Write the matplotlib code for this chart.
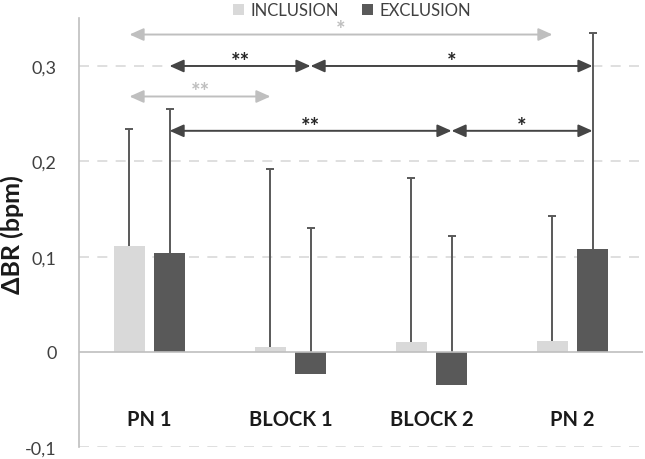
import matplotlib
matplotlib.use("Agg")
import matplotlib.pyplot as plt
import numpy as np

plt.rcParams['font.family'] = ['Lato', 'DejaVu Sans']

# donnees
categories = ["PN 1", "BLOCK 1", "BLOCK 2", "PN 2"]
inclusion = [0.111, 0.005, 0.010, 0.012]
inclusion_err = [0.123, 0.187, 0.173, 0.131]
exclusion = [0.104, -0.023, -0.035, 0.108]
exclusion_err = [0.151, 0.153, 0.157, 0.227]

yticks = [-0.1, 0, 0.1, 0.2, 0.3]
yticklabels = ["-0,1", "0", "0,1", "0,2", "0,3"]

# comparaisons : (groupe depart, groupe arrivee, serie, hauteur, etoiles)
comparaisons = [
    (0, 3, "inc", 0.333, "*"),
    (0, 1, "exc", 0.300, "**"),
    (1, 3, "exc", 0.300, "*"),
    (0, 1, "inc", 0.268, "**"),
    (0, 2, "exc", 0.232, "**"),
    (2, 3, "exc", 0.232, "*"),
]

col_inc = "#D9D9D9"
col_exc = "#595959"
col_fl_inc = "#BFBFBF"
col_fl_exc = "#454545"

x = np.arange(len(categories))
dx = 0.142
w = 0.22

fig = plt.figure(figsize=(6.45, 4.6), dpi=100)
ax = fig.add_axes([0.1225, 0.0254, 0.8744, 0.9326])

ax.bar(x - dx, inclusion, w, color=col_inc, label="INCLUSION", zorder=2)
ax.bar(x + dx, exclusion, w, color=col_exc, label="EXCLUSION", zorder=2)
# barres d'erreur sous les barres (seulement vers le haut)
for pos, val, err in [(x - dx, inclusion, inclusion_err), (x + dx, exclusion, exclusion_err)]:
    eb = ax.errorbar(pos, val, yerr=[np.zeros(4), err], fmt="none",
                     ecolor=col_exc, elinewidth=1.4, capsize=3.2, capthick=1.4,
                     zorder=1.5)
    eb[1][0].set_visible(False)   # pas de cap en bas

ax.set_xlim(-0.5, 3.5)
ax.set_ylim(-0.1, 0.35)
ax.set_xticks([])
ax.set_yticks(yticks)
ax.set_yticklabels(yticklabels)
ax.tick_params(axis="y", length=0, pad=16, labelsize=13, labelcolor="#404040")

for s in ["top", "right", "bottom"]:
    ax.spines[s].set_visible(False)
ax.spines["left"].set_color("#BFBFBF")
ax.spines["left"].set_linewidth(1.2)

for yt in yticks:
    if yt != 0:
        ax.axhline(yt, color="#D9D9D9", lw=1.2, linestyle=(0, (6, 5)), zorder=0)
ax.axhline(0, color="#BFBFBF", lw=1.2, zorder=2.5)

for i, c in enumerate(categories):
    ax.text(x[i], -0.0705, c, ha="center", va="center", fontsize=14.5,
            fontweight="bold", color="#1a1a1a")

ax.set_ylabel("ΔBR (bpm)", fontsize=18, fontweight="bold", color="#1a1a1a")
ax.yaxis.set_label_coords(-0.0975, 0.497)

# fleches de significativite
for g0, g1, serie, h, etoiles in comparaisons:
    off = -dx if serie == "inc" else dx
    col = col_fl_inc if serie == "inc" else col_fl_exc
    ax.annotate("", xy=(x[g1] + off, h), xytext=(x[g0] + off, h),
                arrowprops=dict(arrowstyle="<|-|>,head_length=0.85,head_width=0.38",
                                color=col, lw=1.4, shrinkA=0, shrinkB=0,
                                mutation_scale=10), zorder=4)
    ax.text((x[g0] + x[g1]) / 2 + off, h + 0.005, etoiles, ha="center",
            va="center", fontsize=16, fontweight="bold",
            color=col if serie == "inc" else "#262626")

leg = ax.legend(loc="center", bbox_to_anchor=(352 / 645, 1 - 11 / 460),
                bbox_transform=fig.transFigure, ncol=2, frameon=False,
                fontsize=12, handlelength=0.65, handleheight=0.65,
                handletextpad=0.4, columnspacing=1.4, borderpad=0)
for t in leg.get_texts():
    t.set_color("#404040")

plt.savefig("out.png", dpi=100)
